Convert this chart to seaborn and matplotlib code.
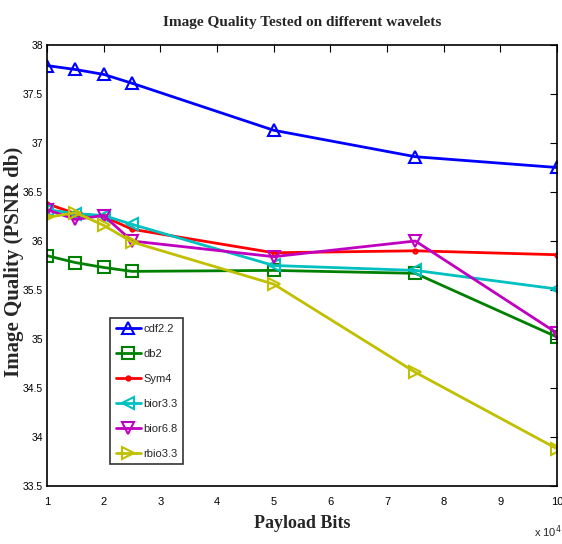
import matplotlib
matplotlib.use("Agg")
import matplotlib.pyplot as plt
import seaborn as sns
import pandas as pd

payload = [1, 1.5, 2, 2.5, 5, 7.5, 10]  # x 10^4
cdf22 = [37.79, 37.75, 37.70, 37.61, 37.13, 36.86, 36.75]
db2 = [35.85, 35.78, 35.73, 35.69, 35.70, 35.67, 35.02]
sym4 = [36.38, 36.28, 36.25, 36.12, 35.88, 35.90, 35.86]
bior33 = [36.32, 36.28, 36.26, 36.17, 35.75, 35.70, 35.51]
bior68 = [36.32, 36.22, 36.26, 36.00, 35.84, 36.00, 35.06]
rbio33 = [36.24, 36.29, 36.16, 35.99, 35.56, 34.66, 33.88]

names = ["cdf2.2", "db2", "Sym4", "bior3.3", "bior6.8", "rbio3.3"]
series = [cdf22, db2, sym4, bior33, bior68, rbio33]
colors = ["#0000ff", "#008000", "#ff0000", "#00c0c0", "#c000c0", "#c0c000"]
markers = ["^", "s", ".", "<", "v", ">"]

sns.set_style("white")
plt.rcParams["font.family"] = ["Liberation Sans Narrow", "Liberation Sans", "DejaVu Sans"]

fig = plt.figure(figsize=(5.62, 5.44), dpi=100)
ax = fig.add_axes([47 / 562, 1 - 486 / 544, (557 - 47) / 562, (486 - 45) / 544])

for name, vals, c, m in zip(names, series, colors, markers):
    df = pd.DataFrame({"x": payload, "y": vals})
    sns.lineplot(data=df, x="x", y="y", ax=ax, color=c, marker=m, label=name,
                 linewidth=2, markersize=8 if m != "." else 6,
                 markerfacecolor="none", markeredgecolor=c, markeredgewidth=1.5)

ax.set_xlim(1, 10)
ax.set_ylim(33.5, 38)
ax.set_xticks(range(1, 11))
ax.set_yticks([33.5, 34, 34.5, 35, 35.5, 36, 36.5, 37, 37.5, 38])
ax.set_yticklabels(["33.5", "34", "34.5", "35", "35.5", "36", "36.5", "37", "37.5", "38"])
ax.tick_params(direction="in", length=5, width=0.8, top=True, right=True,
               labelsize=7.5, colors="black", pad=3)
ax.tick_params(axis="x", labelsize=8, pad=8)
for s in ax.spines.values():
    s.set_visible(True)
    s.set_color("black")
    s.set_linewidth(1.2)

serif = ["Liberation Serif", "DejaVu Serif"]
ax.set_title("Image Quality Tested on different wavelets", family=serif,
             fontweight="bold", fontsize=11, pad=14)
ax.set_xlabel("Payload Bits", family=serif, fontweight="bold", fontsize=13, labelpad=6)
ax.set_ylabel("Image Quality (PSNR db)", family=serif, fontweight="bold", fontsize=15,
              va="center")
ax.yaxis.set_label_coords((14 - 47) / 510, (486 - 262) / 441)

fig.text(548 / 562, 1 - 532 / 544, "x 10$^4$", fontsize=8, ha="center", va="center")

leg = ax.legend(loc="upper left", bbox_to_anchor=(63 / 510, (486 - 318) / 441),
                borderaxespad=0, frameon=True, fancybox=False, edgecolor="black",
                fontsize=8, handlelength=2.3, handletextpad=0.2, borderpad=0.5,
                labelspacing=1.35)
leg.get_frame().set_linewidth(1.2)

fig.savefig("out.png", dpi=100)
